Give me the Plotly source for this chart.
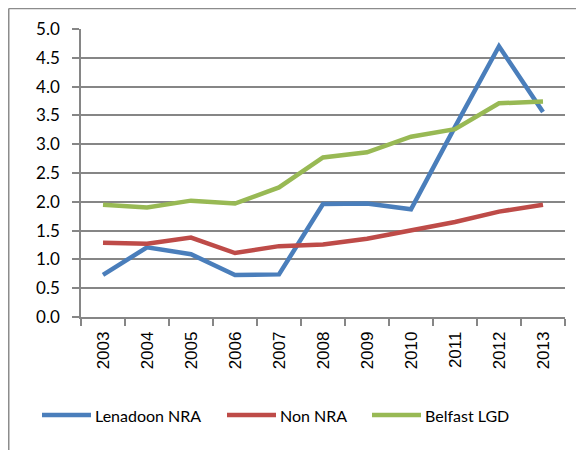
import plotly.graph_objects as go

# ── Data ─────────────────────────────────────────────────────────────
years = ["2003", "2004", "2005", "2006", "2007", "2008",
         "2009", "2010", "2011", "2012", "2013"]
lenadoon_nra = [0.73, 1.21, 1.09, 0.73, 0.74, 1.96, 1.97, 1.87, 3.30, 4.70, 3.56]
non_nra = [1.29, 1.27, 1.38, 1.11, 1.23, 1.26, 1.36, 1.51, 1.65, 1.83, 1.95]
belfast_lgd = [1.95, 1.90, 2.02, 1.97, 2.25, 2.77, 2.86, 3.13, 3.26, 3.71, 3.74]

series = [
    ("Lenadoon NRA", lenadoon_nra, "#4A7EBB"),
    ("Non NRA", non_nra, "#BE4B48"),
    ("Belfast LGD", belfast_lgd, "#98B954"),
]

GRID = "#868686"
FONT = "Lato, Open Sans, sans-serif"

# plot area in figure pixels (page body adds an 8px offset)
W, H = 576, 442
L, R, T, B = 73, 19, 21, 133
PW, PH = W - L - R, H - T - B


def px(x):
    return (x - L) / PW


def py(y):
    return (H - B - y) / PH


fig = go.Figure()
for name, vals, color in series:
    fig.add_trace(go.Scatter(
        x=years, y=vals, mode="lines", name=name,
        line=dict(color=color, width=4.5),
        showlegend=False,
    ))

# ── Hand-built legend (Excel style long line keys) ──────────────────
legend_x = [34, 219, 364]   # left end of each key line, px
legend_y = 407
shapes = [
    # frame lines around the chart object
    dict(type="line", xref="paper", yref="paper",
         x0=px(0.75), x1=px(0.75), y0=py(0.5), y1=py(H + 5),
         line=dict(color="#8c8c8c", width=1.5)),
    dict(type="line", xref="paper", yref="paper",
         x0=px(0.75), x1=px(W + 5), y0=py(0.5), y1=py(0.5),
         line=dict(color="#8c8c8c", width=1.5)),
]
annotations = []
for (name, _, color), lx in zip(series, legend_x):
    shapes.append(dict(
        type="line", xref="paper", yref="paper",
        x0=px(lx), x1=px(lx + 49), y0=py(legend_y), y1=py(legend_y),
        line=dict(color=color, width=4.5),
    ))
    annotations.append(dict(
        xref="paper", yref="paper", x=px(lx + 51), y=py(legend_y),
        xanchor="left", yanchor="middle", showarrow=False,
        text=name, font=dict(family=FONT, size=16, color="black"),
    ))

fig.update_layout(
    width=W, height=H,
    margin=dict(l=L, r=R, t=T, b=B, autoexpand=False),
    paper_bgcolor="white", plot_bgcolor="white",
    font=dict(family=FONT, color="black", size=17),
    shapes=shapes,
    annotations=annotations,
)

fig.update_xaxes(
    type="category", range=[-0.5, 10.5], tickangle=-90,
    automargin=False,
    showline=True, linecolor=GRID, linewidth=1.5,
    ticks="outside", tickson="boundaries", ticklen=7,
    tickcolor=GRID, tickwidth=1.5, ticklabelstandoff=6,
    showgrid=False,
    tickfont=dict(family="Liberation Sans, Arial, sans-serif", size=17),
)
fig.update_yaxes(
    range=[0, 5], dtick=0.5, tickformat=".1f",
    automargin=False,
    showline=True, linecolor=GRID, linewidth=1.5,
    ticks="outside", ticklen=7, tickcolor=GRID, tickwidth=1.5,
    ticklabelstandoff=9,
    showgrid=True, gridcolor=GRID, gridwidth=1.5,
    zeroline=False,
    tickfont=dict(family=FONT, size=17),
)

fig.write_html("out.html")
